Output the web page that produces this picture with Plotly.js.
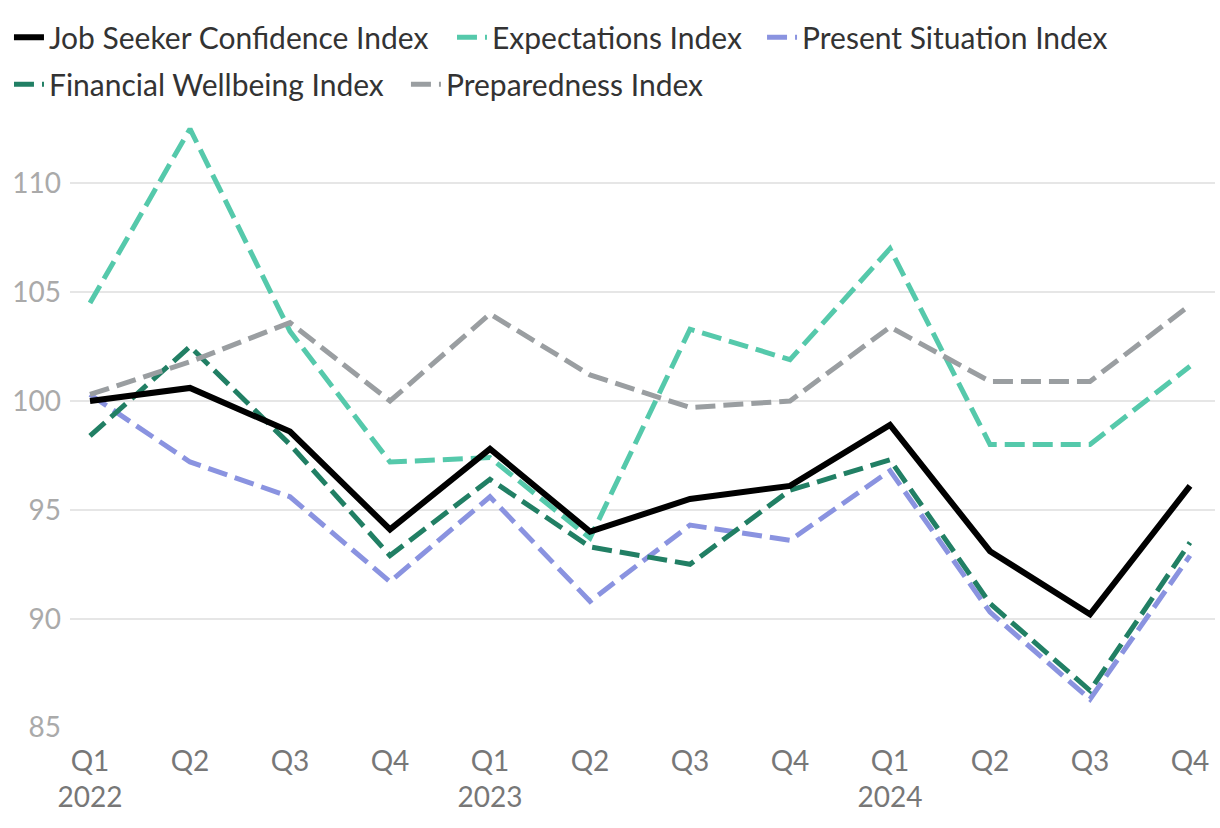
<!DOCTYPE html>
<html>
<head>
<meta charset="utf-8">
<script src="https://cdn.plot.ly/plotly-3.0.1.min.js"></script>
<style>
  html, body { margin: 0; padding: 0; background: #fff; }
  #chart { width: 1220px; height: 828px; }
</style>
</head>
<body>
<div id="chart"></div>
<script>
const quarters = ["2022 Q1","2022 Q2","2022 Q3","2022 Q4","2023 Q1","2023 Q2","2023 Q3","2023 Q4","2024 Q1","2024 Q2","2024 Q3","2024 Q4"];
const tickText = ["Q1<br>2022","Q2","Q3","Q4","Q1<br>2023","Q2","Q3","Q4","Q1<br>2024","Q2","Q3","Q4"];
const yTicks = [85, 90, 95, 100, 105, 110];

const jobSeekerConfidence = [100.0, 100.6, 98.6, 94.1, 97.8, 94.0, 95.5, 96.1, 98.9, 93.1, 90.2, 96.1];
const expectations       = [104.5, 112.5, 103.2, 97.2, 97.4, 93.7, 103.3, 101.9, 107.0, 98.0, 98.0, 101.6];
const presentSituation   = [100.3, 97.2, 95.6, 91.7, 95.6, 90.8, 94.3, 93.6, 96.8, 90.3, 86.3, 92.9];
const financialWellbeing = [98.4, 102.5, 98.0, 92.9, 96.4, 93.3, 92.5, 95.9, 97.3, 90.7, 86.7, 93.5];
const preparedness       = [100.3, 101.8, 103.6, 100.0, 104.0, 101.2, 99.7, 100.0, 103.4, 100.9, 100.9, 104.4];

const dashPat = "20px,8px";
const series = [
  {name: "Expectations Index", y: expectations, color: "#55c9ab", dash: dashPat, width: 5, legend: "legend2"},
  {name: "Present Situation Index", y: presentSituation, color: "#8a93e0", dash: dashPat, width: 5, legend: "legend3"},
  {name: "Financial Wellbeing Index", y: financialWellbeing, color: "#217f64", dash: dashPat, width: 5, legend: "legend4"},
  {name: "Preparedness Index", y: preparedness, color: "#9a9ea1", dash: dashPat, width: 5, legend: "legend5"},
  {name: "Job Seeker Confidence Index", y: jobSeekerConfidence, color: "#000000", dash: "solid", width: 6, legend: "legend"}
];
const traces = series.map(t => ({
  type: "scatter",
  mode: "lines",
  x: quarters,
  y: t.y,
  name: t.name,
  legend: t.legend,
  line: {color: t.color, width: t.width, dash: t.dash},
  hoverinfo: "skip"
}));

const FONT = "Lato, 'Source Sans Pro', sans-serif";
function leg(x, y) {
  return {
    orientation: "h",
    x: x, xanchor: "left",
    y: y, yanchor: "top",
    font: {family: FONT, size: 30, color: "#333333"},
    bgcolor: "rgba(0,0,0,0)"
  };
}
const row1 = 1.175, row2 = 1.098;
const layout = {
  width: 1220,
  height: 828,
  margin: {l: 70, r: 5, t: 118, b: 100},
  paper_bgcolor: "#ffffff",
  plot_bgcolor: "#ffffff",
  font: {family: FONT, size: 28, color: "#333333"},
  showlegend: true,
  legend: leg(-0.0533, row1),
  legend2: leg(0.3336, row1),
  legend3: leg(0.6044, row1),
  legend4: leg(-0.0533, row2),
  legend5: leg(0.2934, row2),
  xaxis: {
    type: "category",
    tickmode: "array",
    tickvals: quarters,
    ticktext: tickText,
    range: [-0.2, 11.25],
    showgrid: false,
    zeroline: false,
    showline: false,
    ticks: "",
    ticklabelstandoff: 14,
    tickfont: {family: FONT, size: 28, color: "#777777"}
  },
  yaxis: {
    range: [84.98, 113],
    tickmode: "array",
    tickvals: yTicks,
    showgrid: true,
    gridcolor: "#e6e6e6",
    gridwidth: 2,
    zeroline: false,
    showline: false,
    ticks: "",
    ticklabelstandoff: 8,
    tickfont: {family: FONT, size: 28, color: "#aaaaaa"}
  }
};

Plotly.newPlot("chart", traces, layout, {displayModeBar: false, staticPlot: true});
</script>
</body>
</html>
